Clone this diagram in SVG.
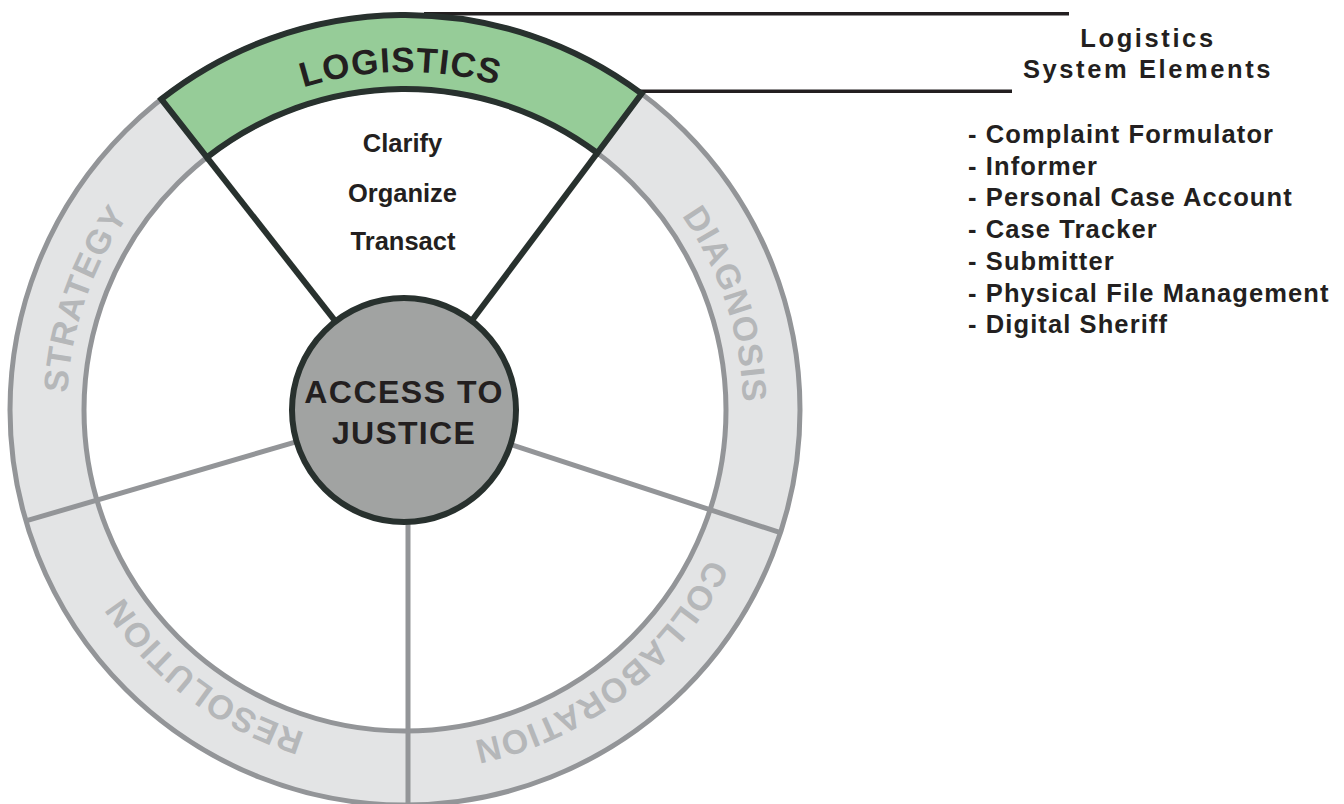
<svg xmlns="http://www.w3.org/2000/svg" width="1344" height="804" viewBox="0 0 1344 804">
<style>
.ringline{fill:none;stroke:#939598;stroke-width:5}
.div{stroke:#939598;stroke-width:5;fill:none}
.dark{stroke:#28312e;stroke-width:6;fill:none}
.lead{stroke:#231f20;stroke-width:3.5;fill:none}
.lbl{font-family:"Liberation Sans",Arial,sans-serif;font-weight:bold;font-size:34px;fill:#b5b7b9;letter-spacing:1px}
.t{font-family:"Liberation Sans",Arial,sans-serif;font-weight:bold;fill:#231f20}
</style>
<defs>
<path id="arc" d="M405,748 A338,338 0 0 1 405,72 A338,338 0 0 1 405,748"/>
</defs>
<rect width="1344" height="804" fill="#ffffff"/>
<g id="ring">
<circle cx="405" cy="410" r="358" fill="none" stroke="#e3e4e5" stroke-width="74"/>
<circle class="ringline" cx="405" cy="410" r="395"/>
<circle class="ringline" cx="405" cy="410" r="321"/>
</g>
<g id="connectors">
<line class="div" x1="25.9" y1="520.9" x2="299.4" y2="440.9"/>
<line class="div" x1="780.4" y1="532.7" x2="509.6" y2="444.2"/>
<line class="div" x1="408" y1="806" x2="408" y2="515"/>
<line class="lead" x1="424" y1="13.8" x2="1069" y2="13.8"/>
<line class="lead" x1="640" y1="91.3" x2="1012" y2="91.3"/>
</g>
<g id="logistics">
<path d="M161.3,99.2 A395,395 0 0,1 641.6,93.7 L597.3,153.0 A321,321 0 0,0 206.9,157.4 Z" fill="#96cc98" stroke="#28312e" stroke-width="6" stroke-linejoin="miter"/>
<line class="dark" x1="206.9" y1="157.4" x2="335.9" y2="321.9"/>
<line class="dark" x1="597.3" y1="153.0" x2="472.1" y2="320.3"/>
<text class="t" font-size="35" letter-spacing="1"><textPath href="#arc" startOffset="1057" text-anchor="middle">LOGISTICS</textPath></text>
<text class="t" font-size="25.5" x="402.5" y="152" text-anchor="middle">Clarify</text>
<text class="t" font-size="25.5" x="402.5" y="202" text-anchor="middle">Organize</text>
<text class="t" font-size="25.5" x="403" y="250" text-anchor="middle">Transact</text>
</g>
<g id="strategy">
<text class="lbl"><textPath href="#arc" startOffset="643" text-anchor="middle">STRATEGY</textPath></text>
</g>
<g id="diagnosis">
<text class="lbl"><textPath href="#arc" startOffset="1485" text-anchor="middle">DIAGNOSIS</textPath></text>
</g>
<g id="collaboration">
<text class="lbl"><textPath href="#arc" startOffset="1900" text-anchor="middle">COLLABORATION</textPath></text>
</g>
<g id="resolution">
<text class="lbl"><textPath href="#arc" startOffset="218" text-anchor="middle">RESOLUTION</textPath></text>
</g>
<g id="access">
<circle cx="404" cy="410" r="112" fill="#a1a3a2" stroke="#28312e" stroke-width="6"/>
<text class="t" font-size="32" letter-spacing="1.5" x="404" y="403" text-anchor="middle">ACCESS TO</text>
<text class="t" font-size="32" letter-spacing="1.3" x="404" y="444" text-anchor="middle">JUSTICE</text>
</g>
<g id="elements">
<text class="t" font-size="25.5" letter-spacing="2.6" x="1148" y="47" text-anchor="middle">Logistics</text>
<text class="t" font-size="25.5" letter-spacing="2.6" x="1148" y="78" text-anchor="middle">System Elements</text>
<g class="t" font-size="25.5" letter-spacing="1.1">
<text x="968" y="143">- Complaint Formulator</text>
<text x="968" y="175">- Informer</text>
<text x="968" y="206">- Personal Case Account</text>
<text x="968" y="238">- Case Tracker</text>
<text x="968" y="270">- Submitter</text>
<text x="968" y="302">- Physical File Management</text>
<text x="968" y="333">- Digital Sheriff</text>
</g>
</g>
</svg>
